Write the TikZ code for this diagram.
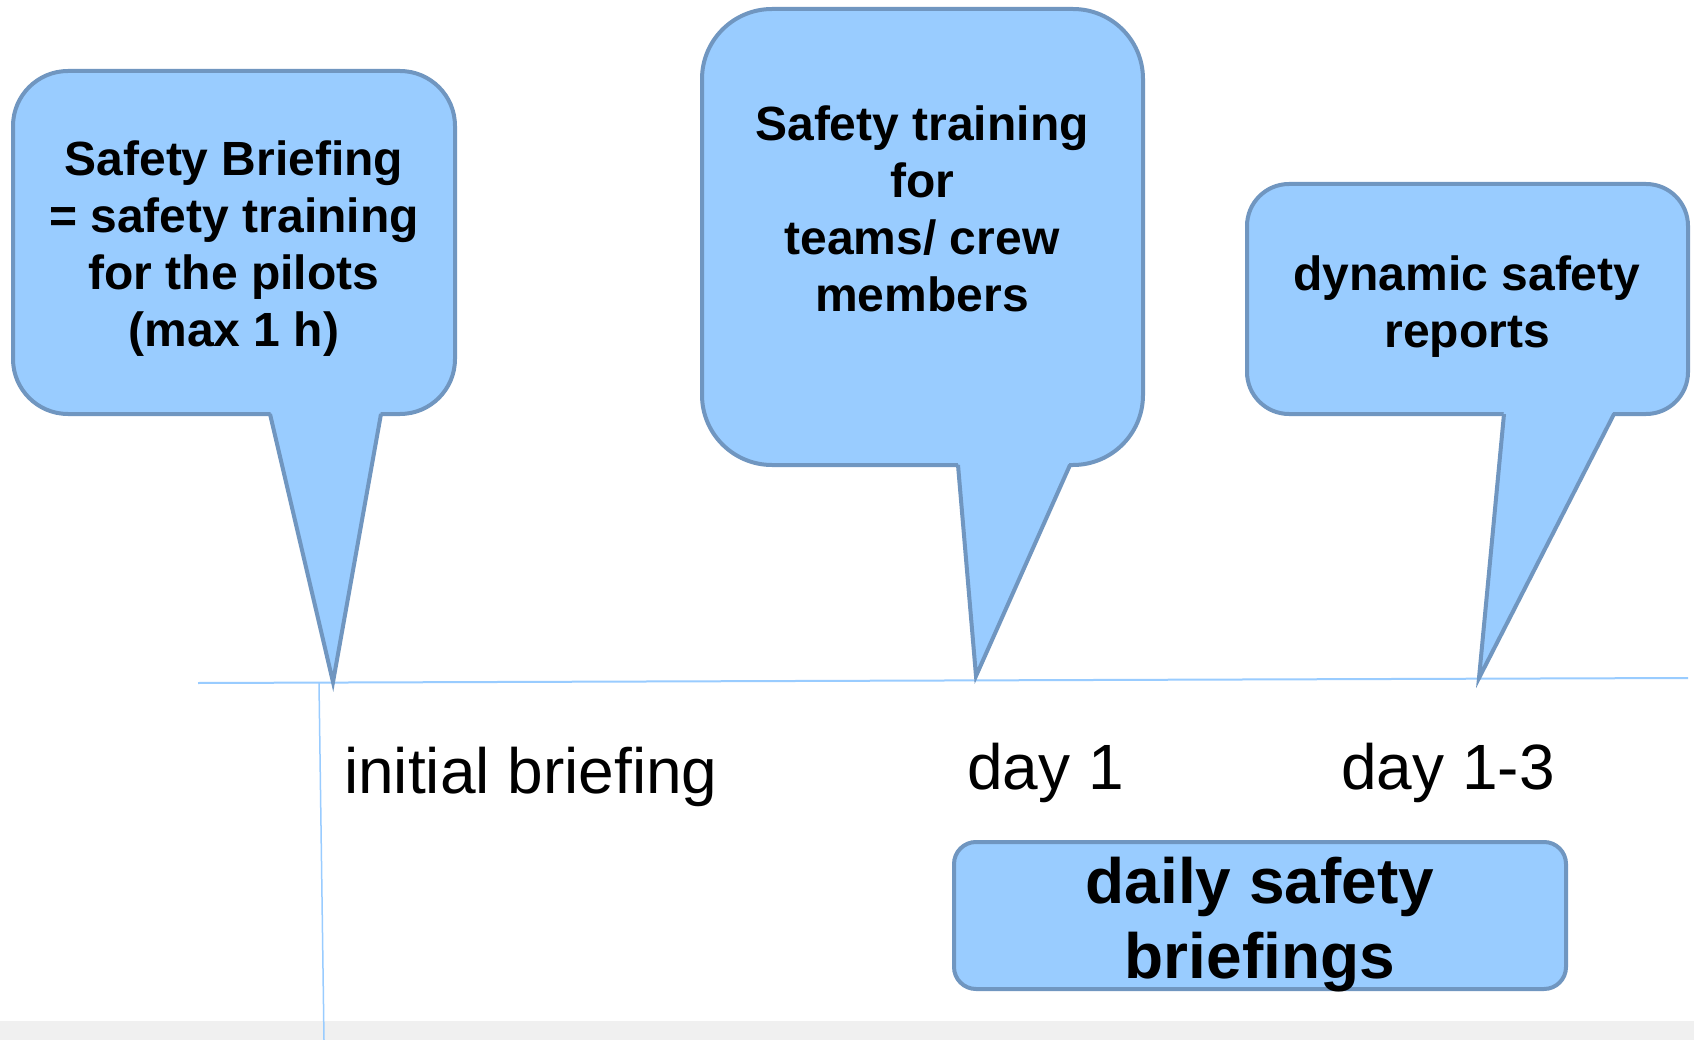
\documentclass[tikz,border=0pt]{standalone}
\usepackage{fontspec}
\setmainfont{Liberation Sans}
\definecolor{bubblefill}{HTML}{99CCFF}
\definecolor{bubbleline}{HTML}{7096C0}
\definecolor{axisline}{HTML}{99CCFF}
\definecolor{stripgray}{HTML}{F0F0F0}
\begin{document}
\begin{tikzpicture}[x=1pt,y=-1pt,
  bubble/.style={draw=bubbleline, fill=bubblefill, line width=4pt},
  tailfill/.style={fill=bubblefill},
  tailline/.style={draw=bubbleline, line width=4pt, line join=miter},
  boldtxt/.style={font=\fontsize{48}{57}\selectfont\bfseries, anchor=base, inner sep=0pt},
  bigtxt/.style={font=\fontsize{64}{75}\selectfont\bfseries, anchor=base, inner sep=0pt},
  plaintxt/.style={font=\fontsize{64}{75}\selectfont, anchor=base west, inner sep=0pt},
  axis/.style={draw=axisline, line width=2pt}]
\useasboundingbox (0,0) rectangle (1694,1040);
\fill[white] (0,0) rectangle (1694,1040);
% bottom strip
\fill[stripgray] (0,1021) rectangle (1694,1040);
% timeline
\coordinate (ax0) at (198,683);
\coordinate (ax1) at (1688,678);
\coordinate (vx0) at (319,683);
\coordinate (vx1) at (324,1040);
\draw[axis] (ax0) -- (ax1);
\draw[axis, line width=1.5pt] (vx0) -- (vx1);

% bubble 1
\draw[bubble, rounded corners=55pt] (13,71) rectangle (455,414);
\coordinate (t1a) at (270,414); \coordinate (t1b) at (381,414); \coordinate (t1tip) at (333,682);
\fill[tailfill] (270,410) -- (t1tip) -- (381,410) -- cycle;
\draw[tailline] (t1a) -- (t1tip) -- (t1b);
\node[boldtxt] (s1a) at (234,176) {Safety Briefing};
\node[boldtxt] (s1b) at (234,233) {= safety training};
\node[boldtxt] (s1c) at (234,290) {for the pilots};
\node[boldtxt] (s1d) at (234,347) {(max 1 h)};

% bubble 2
\draw[bubble, rounded corners=70pt] (702,9) rectangle (1143,465);
\coordinate (t2a) at (958,465); \coordinate (t2b) at (1070,465); \coordinate (t2tip) at (976,676);
\fill[tailfill] (958,461) -- (t2tip) -- (1070,461) -- cycle;
\draw[tailline] (t2a) -- (t2tip) -- (t2b);
\node[boldtxt] (s2a) at (922,141) {Safety training};
\node[boldtxt] (s2b) at (922,198) {for};
\node[boldtxt] (s2c) at (922,255) {teams/ crew};
\node[boldtxt] (s2d) at (922,312) {members};

% bubble 3
\draw[bubble, rounded corners=42pt] (1247,184) rectangle (1688,414);
\coordinate (t3a) at (1504,414); \coordinate (t3b) at (1614,414); \coordinate (t3tip) at (1479,678);
\fill[tailfill] (1504,410) -- (t3tip) -- (1614,410) -- cycle;
\draw[tailline] (t3a) -- (t3tip) -- (t3b);
\node[boldtxt] (s3a) at (1467,291) {dynamic safety};
\node[boldtxt] (s3b) at (1467,348) {reports};

% labels under timeline
\node[plaintxt] (l1) at (344,793) {initial briefing};
\node[plaintxt] (l2) at (967,789) {day 1};
\node[plaintxt] (l3) at (1341,789) {day 1-3};

% daily box
\draw[bubble, rounded corners=22pt] (954,842) rectangle (1566,989);
\node[bigtxt] (d1) at (1260,903) {daily safety};
\node[bigtxt] (d2) at (1260,978) {briefings};
\end{tikzpicture}
\end{document}
